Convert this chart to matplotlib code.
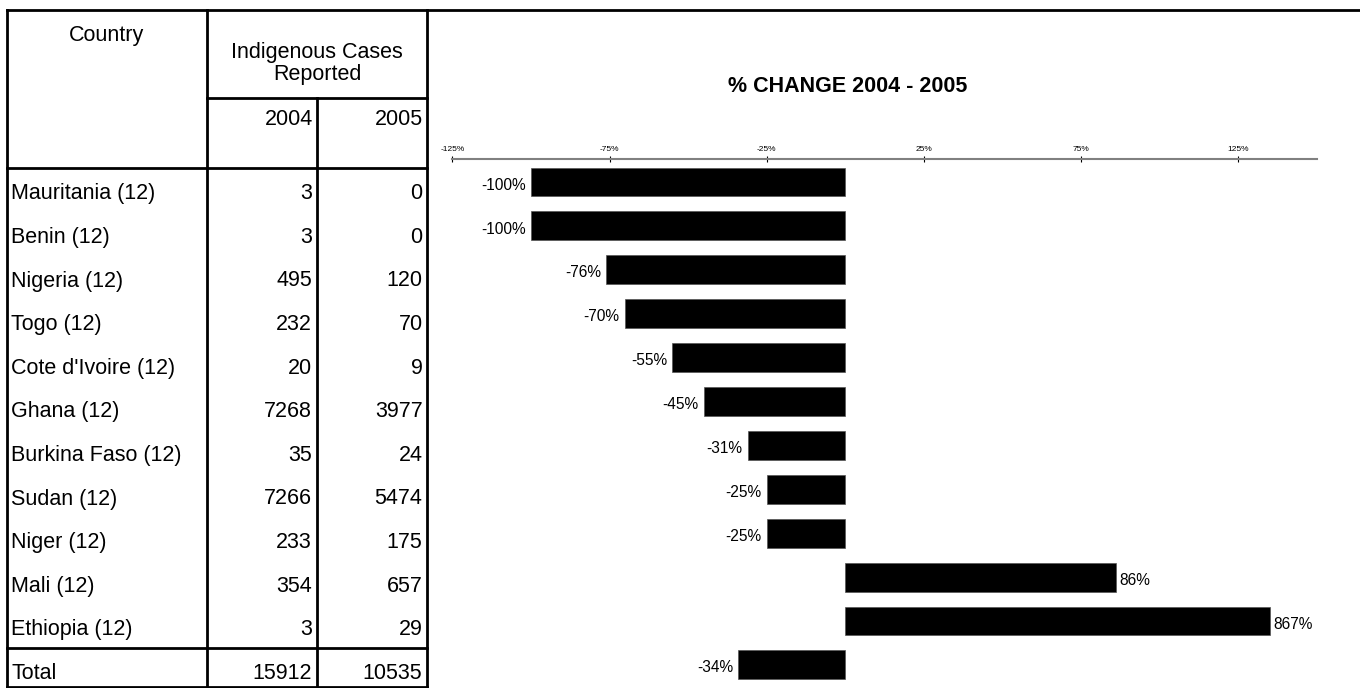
import numpy as np
import matplotlib
matplotlib.use("Agg")
import matplotlib.pyplot as plt

plt.rcParams["font.family"] = ["Liberation Sans", "DejaVu Sans"]

# ---------------------------------------------------------------------------
# Data
# ---------------------------------------------------------------------------
COUNTRIES = ["Mauritania (12)", "Benin (12)", "Nigeria (12)", "Togo (12)",
             "Cote d'Ivoire (12)", "Ghana (12)", "Burkina Faso (12)",
             "Sudan (12)", "Niger (12)", "Mali (12)", "Ethiopia (12)", "Total"]
CASES_2004 = [3, 3, 495, 232, 20, 7268, 35, 7266, 233, 354, 3, 15912]
CASES_2005 = [0, 0, 120, 70, 9, 3977, 24, 5474, 175, 657, 29, 10535]
PCT_CHANGE = [-100, -100, -76, -70, -55, -45, -31, -25, -25, 86, 867, -34]
TICKS = [-125, -75, -25, 25, 75, 125]
BAR_CAP = 135          # the 867% bar is drawn truncated in the original
TITLE = "% CHANGE 2004 - 2005"

# ---------------------------------------------------------------------------
# Layout (pixels, figure is 1360 x 688 at dpi 100)
# ---------------------------------------------------------------------------
W, H = 1360, 688
FS = 15.5              # table / title font size
LW = 2.0               # table border width
X_LEFT, X_C1, X_C2, X_RIGHT = 7, 207, 317, 427
Y_TOP, Y_HMID, Y_HEAD, Y_TOTAL, Y_BOT = 10, 98, 168, 648, 686.5
ROW0_BASE, ROW_STEP = 199.3, 43.6

# bar axes geometry
AX_L, AX_R, AX_T = 452.3, 1317.0, 159.3
BAR0, BAR_STEP = 182.0, 43.9

fig = plt.figure(figsize=(W / 100, H / 100), dpi=100)

# --- table drawn in pixel coordinates on a full-figure axes ---------------
tab = fig.add_axes([0, 0, 1, 1])
tab.set_xlim(0, W)
tab.set_ylim(H, 0)
tab.axis("off")

kw = dict(color="black", lw=LW, solid_capstyle="projecting")
tab.plot([X_LEFT, W], [Y_TOP, Y_TOP], **kw)
for x in (X_LEFT, X_C1, X_RIGHT):
    tab.plot([x, x], [Y_TOP, Y_BOT], **kw)
tab.plot([X_C2, X_C2], [Y_HMID, Y_BOT], **kw)
tab.plot([X_C1, X_RIGHT], [Y_HMID, Y_HMID], **kw)
for y in (Y_HEAD, Y_TOTAL, Y_BOT):
    tab.plot([X_LEFT, X_RIGHT], [y, y], **kw)

tab.text((X_LEFT + X_C1) / 2, 40.7, "Country", ha="center", va="baseline", fontsize=FS)
tab.text((X_C1 + X_RIGHT) / 2, 58.3, "Indigenous Cases", ha="center", va="baseline", fontsize=FS)
tab.text((X_C1 + X_RIGHT) / 2, 80.0, "Reported", ha="center", va="baseline", fontsize=FS)
tab.text(X_C2 - 4, 125, "2004", ha="right", va="baseline", fontsize=FS)
tab.text(X_RIGHT - 4, 125, "2005", ha="right", va="baseline", fontsize=FS)

for i, (name, a, b) in enumerate(zip(COUNTRIES, CASES_2004, CASES_2005)):
    y = ROW0_BASE + i * ROW_STEP
    tab.text(X_LEFT + 4, y, name, ha="left", va="baseline", fontsize=FS)
    tab.text(X_C2 - 5, y, str(a), ha="right", va="baseline", fontsize=FS)
    tab.text(X_RIGHT - 4.5, y, str(b), ha="right", va="baseline", fontsize=FS)

tab.text(848, 92.3, TITLE, ha="center", va="baseline", fontsize=FS, fontweight="bold")

# --- bar chart ------------------------------------------------------------
ax = fig.add_axes([AX_L / W, 0, (AX_R - AX_L) / W, (H - AX_T) / H])
ax.set_facecolor("none")
n = len(COUNTRIES)
ypos = np.arange(n)
y_top = (AX_T - BAR0) / BAR_STEP
y_bot = (H - BAR0) / BAR_STEP
ax.set_ylim(y_bot, y_top)
ax.set_xlim(-125, 150)

vals = np.minimum(np.array(PCT_CHANGE, dtype=float), BAR_CAP)
ax.barh(ypos, vals, height=0.66, color="black", edgecolor="#555555", linewidth=0.5)

for i, (v, p) in enumerate(zip(vals, PCT_CHANGE)):
    if v < 0:
        ax.annotate(f"{p}%", (v, i), xytext=(-5.5, -7.6), textcoords="offset pixels",
                    ha="right", va="baseline", fontsize=11.2)
    else:
        ax.annotate(f"{p}%", (v, i), xytext=(4, -7.6), textcoords="offset pixels",
                    ha="left", va="baseline", fontsize=11.2)

for s in ("left", "right", "bottom"):
    ax.spines[s].set_visible(False)
ax.spines["top"].set_color("#808080")
ax.spines["top"].set_linewidth(1.5)
ax.set_yticks([])
ax.set_xticks(TICKS)
ax.set_xticklabels([f"{t}%" for t in TICKS])
ax.xaxis.set_ticks_position("top")
ax.tick_params(axis="x", direction="inout", length=4, width=0.8, pad=2.5,
               labelsize=6, colors="black")

fig.savefig("out.png", dpi=100)
